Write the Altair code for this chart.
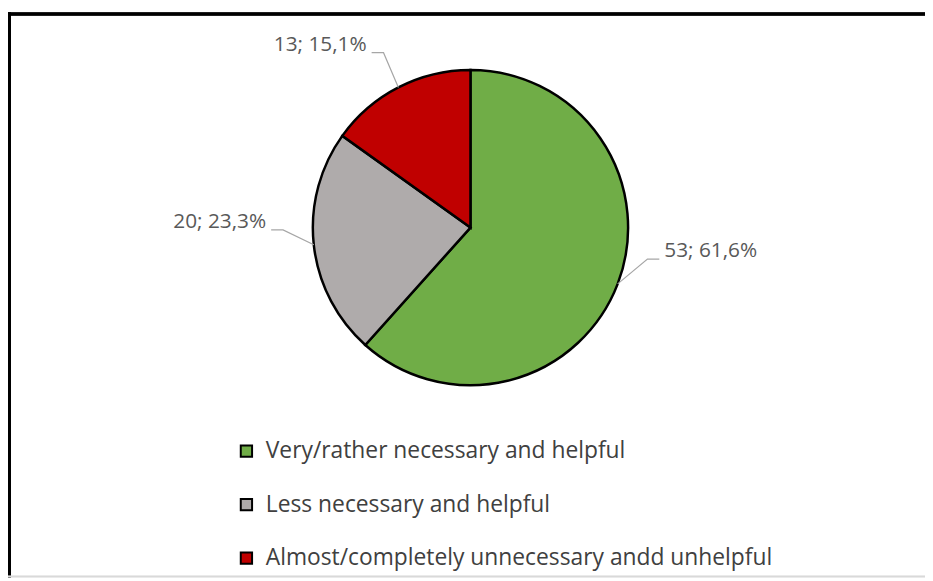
import math
import altair as alt
import pandas as pd

# ---- data ----
categories = [
    "Very/rather necessary and helpful",
    "Less necessary and helpful",
    "Almost/completely unnecessary andd unhelpful",
]
counts = [53, 20, 13]
colors = ["#70AD47", "#AFABAB", "#C00000"]

# ---- style / layout ----
W, H = 925, 572
CX, CY, R = 466.5, 219, 159
ELBOW = {  # leader-line elbow offsets (px) from the slice edge point
    categories[0]: (30, -25),
    categories[1]: (-31, -15),
    categories[2]: (-15, -35),
}
HSEG = 12
FONT = "Open Sans"

total = sum(counts)
pie_df = pd.DataFrame({"category": categories, "count": counts, "idx": range(len(counts))})

line_rows, text_rows = [], []
cum = 0
for cat, v in zip(categories, counts):
    mid = (cum + v / 2) / total * 2 * math.pi
    cum += v
    ax, ay = CX + R * math.sin(mid), CY - R * math.cos(mid)
    ex, ey = ax + ELBOW[cat][0], ay + ELBOW[cat][1]
    side = "right" if math.sin(mid) > 0 else "left"
    sgn = 1 if side == "right" else -1
    lx, ly = ex + sgn * HSEG, ey
    for step, (px, py) in enumerate([(ax, ay), (ex, ey), (lx, ly)]):
        line_rows.append({"category": cat, "step": step, "px": px, "py": py})
    label = f"{v}; {v / total * 100:.1f}%".replace(".", ",")
    text_rows.append({"label": label, "px": lx + sgn * 5, "py": ly - 8, "side": side})

lines_df = pd.DataFrame(line_rows)
text_df = pd.DataFrame(text_rows)

frame_left = alt.Chart(pie_df).mark_rule(color="black", strokeWidth=3).encode(
    x=alt.value(1.5), y=alt.value(2), y2=alt.value(H))
frame_top = alt.Chart(pie_df).mark_rule(color="black", strokeWidth=3).encode(
    x=alt.value(0), x2=alt.value(W), y=alt.value(3.5))
frame_bottom = alt.Chart(pie_df).mark_rule(color="#D9D9D9", strokeWidth=1.5).encode(
    x=alt.value(0), x2=alt.value(W), y=alt.value(H - 1))

pie = alt.Chart(pie_df).mark_arc(outerRadius=R, stroke="black", strokeWidth=2.5).encode(
    theta=alt.Theta("count:Q", stack=True),
    color=alt.Color(
        "category:N",
        scale=alt.Scale(domain=categories, range=colors),
        sort=categories,
        legend=alt.Legend(
            title=None, orient="none", legendX=229, legendY=433, direction="vertical",
            symbolType="square", symbolSize=130, symbolStrokeColor="black",
            symbolStrokeWidth=2, labelFont=FONT, labelFontSize=23, labelColor="#404040",
            labelOffset=8, rowPadding=30, labelLimit=800,
        ),
    ),
    order=alt.Order("idx:Q"),
    x=alt.value(CX),
    y=alt.value(CY),
)

lines = alt.Chart(lines_df).mark_line(color="#A6A6A6", strokeWidth=1.2).encode(
    x=alt.X("px:Q", scale=None, axis=None),
    y=alt.Y("py:Q", scale=None, axis=None),
    detail="category:N",
    order="step:Q",
)

text_r = alt.Chart(text_df).mark_text(
    align="left", baseline="middle", font=FONT, fontSize=21, color="#595959"
).encode(
    x=alt.X("px:Q", scale=None, axis=None),
    y=alt.Y("py:Q", scale=None, axis=None),
    text="label:N",
).transform_filter(alt.datum.side == "right")

text_l = alt.Chart(text_df).mark_text(
    align="right", baseline="middle", font=FONT, fontSize=21, color="#595959"
).encode(
    x=alt.X("px:Q", scale=None, axis=None),
    y=alt.Y("py:Q", scale=None, axis=None),
    text="label:N",
).transform_filter(alt.datum.side == "left")

chart = alt.layer(frame_left, frame_top, frame_bottom, pie, lines, text_r, text_l).properties(
    width=W, height=H, padding=0, autosize="none", background="white"
).configure_view(stroke=None)

chart.save("out.html", embed_options={"renderer": "svg", "actions": False})
